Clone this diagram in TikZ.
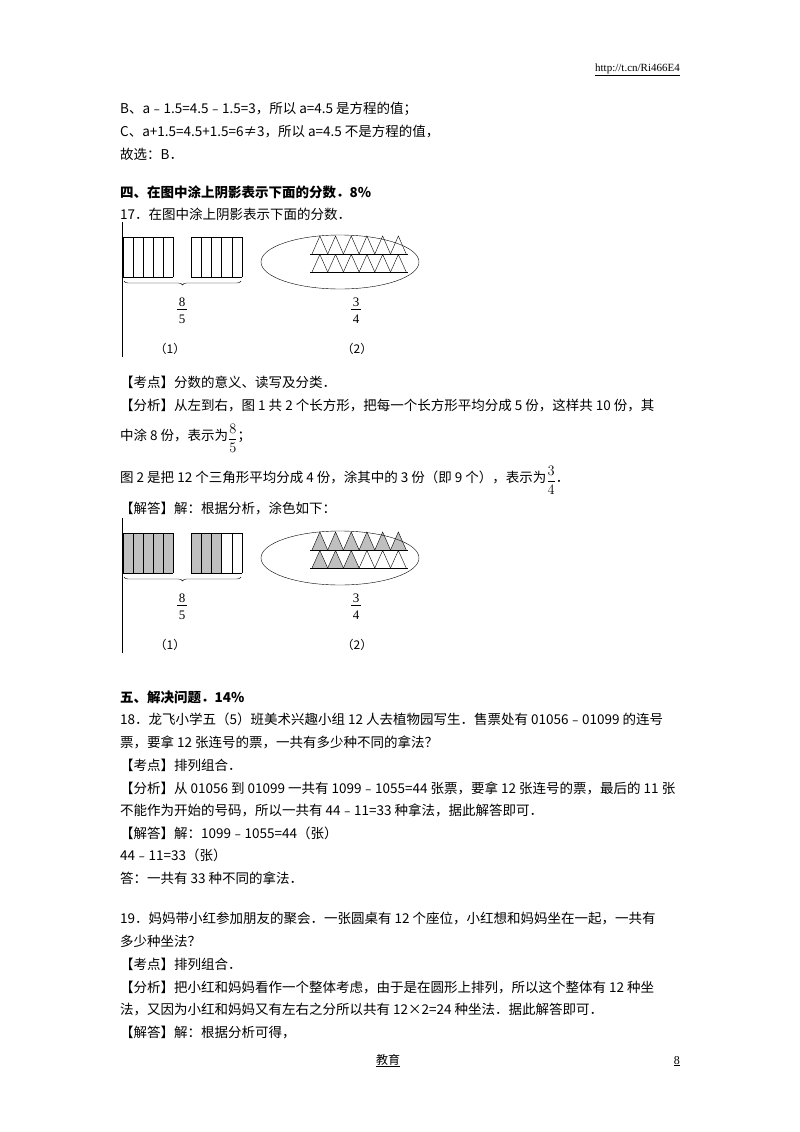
\documentclass[tikz,border=0pt]{standalone}
\usepackage{fontspec}
\setmainfont{Liberation Serif}
\newfontfamily\cjk{Noto Sans CJK SC}
\usetikzlibrary{decorations.pathreplacing}
\begin{document}
\begin{tikzpicture}[x=1pt,y=-1pt,
  txt/.style={anchor=base west,inner sep=0pt,font=\cjk\fontsize{13.5}{16}\selectfont},
  bld/.style={txt,font=\cjk\bfseries\fontsize{13.5}{16}\selectfont},
  capt/.style={anchor=base,inner sep=0pt,font=\fontsize{13}{15}\selectfont},
  pcap/.style={anchor=base,inner sep=0pt,font=\cjk\fontsize{12}{15}\selectfont}]
\useasboundingbox (0,0) rectangle (800,1132);
\fill[white] (0,0) rectangle (800,1132);
\node[anchor=base east,inner sep=0pt,font=\fontsize{11}{13}\selectfont] (url) at (680,71) {\underline{http://t.cn/Ri466E4}};
\node[txt] (l1) at (120,113) {B、a﹣1.5=4.5﹣1.5=3，所以 a=4.5 是方程的值；};
\node[txt] (l2) at (120,136) {C、a+1.5=4.5+1.5=6≠3，所以 a=4.5 不是方程的值，};
\node[txt] (l3) at (120,159) {故选：B．};
\node[bld] (h4) at (120,197) {四、在图中涂上阴影表示下面的分数．8\%};
\node[txt] (q17) at (120,219) {17．在图中涂上阴影表示下面的分数．};
% figures
\foreach \dy/\sh in {0/0,296/1}{
 \begin{scope}[yshift=-\dy pt]
  \draw[thick] (122,222) -- (122,357);
  \ifnum\sh=1
   \fill[black!25] (123,237) rectangle (173,277);
   \fill[black!25] (191,237) rectangle (221.6,277);
   \foreach \i in {0,...,5}{\fill[black!25] ({312+15.7*\i},254) -- ({319.85+15.7*\i},236) -- ({327.7+15.7*\i},254) -- cycle;}
   \foreach \i in {0,...,2}{\fill[black!25] ({312+15.7*\i},272) -- ({319.85+15.7*\i},255) -- ({327.7+15.7*\i},272) -- cycle;}
  \fi
  \foreach \x in {0,...,5}{\draw (123+10*\x,237) -- (123+10*\x,277);}
  \draw (123,237) -- (173,237) (123,277) -- (173,277);
  \foreach \x in {0,...,5}{\draw (191+10.2*\x,237) -- (191+10.2*\x,277);}
  \draw (191,237) -- (242,237) (191,277) -- (242,277);
  \draw[decorate,decoration={brace,mirror,amplitude=4pt}] (124,281) -- (241,281);
  \node[capt] at (182,306) {8};
  \draw (177,309) -- (187,309);
  \node[capt] at (182,323) {5};
  \node[pcap] at (170,353) {（1）};
  \draw (340,262) ellipse (79 and 27);
  \foreach \r in {0,1}{
   \draw (310,254+18*\r) -- (408,254+18*\r);
   \foreach \i in {0,...,5}{\draw ({312+15.7*\i},{254+18*\r}) -- ({319.85+15.7*\i},{236+18.5*\r}) -- ({327.7+15.7*\i},{254+18*\r});}
  }
  \node[capt] at (356,306) {3};
  \draw (351,309) -- (361,309);
  \node[capt] at (356,323) {4};
  \node[pcap] at (357,353) {（2）};
 \end{scope}}
\node[txt] (k1) at (120,387) {【考点】分数的意义、读写及分类．};
\node[txt] (f1) at (120,410) {【分析】从左到右，图 1 共 2 个长方形，把每一个长方形平均分成 5 份，这样共 10 份，其};
\node[txt] (f2) at (120,440) {中涂 8 份，表示为\raisebox{-3pt}{$\displaystyle\frac{8}{5}$}；};
\node[txt] (f3) at (120,482) {图 2 是把 12 个三角形平均分成 4 份，涂其中的 3 份（即 9 个），表示为\raisebox{-3pt}{$\displaystyle\frac{3}{4}$}．};
\node[txt] (j1) at (120,513) {【解答】解：根据分析，涂色如下：};
\node[bld] (h5) at (120,702) {五、解决问题．14\%};
\node[txt] (q18) at (120,724) {18．龙飞小学五（5）班美术兴趣小组 12 人去植物园写生．售票处有 01056﹣01099 的连号};
\node[txt] (q18b) at (120,747) {票，要拿 12 张连号的票，一共有多少种不同的拿法？};
\node[txt] (k2) at (120,770) {【考点】排列组合．};
\node[txt] (f4) at (120,793) {【分析】从 01056 到 01099 一共有 1099﹣1055=44 张票，要拿 12 张连号的票，最后的 11 张};
\node[txt] (f5) at (120,815) {不能作为开始的号码，所以一共有 44﹣11=33 种拿法，据此解答即可．};
\node[txt] (j2) at (120,838) {【解答】解：1099﹣1055=44（张）};
\node[txt] (j3) at (120,860) {44﹣11=33（张）};
\node[txt] (j4) at (120,883) {答：一共有 33 种不同的拿法．};
\node[txt] (q19) at (120,923) {19．妈妈带小红参加朋友的聚会．一张圆桌有 12 个座位，小红想和妈妈坐在一起，一共有};
\node[txt] (q19b) at (120,946) {多少种坐法？};
\node[txt] (k3) at (120,969) {【考点】排列组合．};
\node[txt] (f6) at (120,992) {【分析】把小红和妈妈看作一个整体考虑，由于是在圆形上排列，所以这个整体有 12 种坐};
\node[txt] (f7) at (120,1014) {法，又因为小红和妈妈又有左右之分所以共有 12×2=24 种坐法．据此解答即可．};
\node[txt] (j5) at (120,1037) {【解答】解：根据分析可得，};
\node[anchor=base,inner sep=0pt,font=\cjk\fontsize{12}{14}\selectfont] (ft) at (388,1064) {\underline{教育}};
\node[anchor=base east,inner sep=0pt,font=\fontsize{12}{14}\selectfont] (pg) at (680,1064) {\underline{8}};
\end{tikzpicture}
\end{document}
